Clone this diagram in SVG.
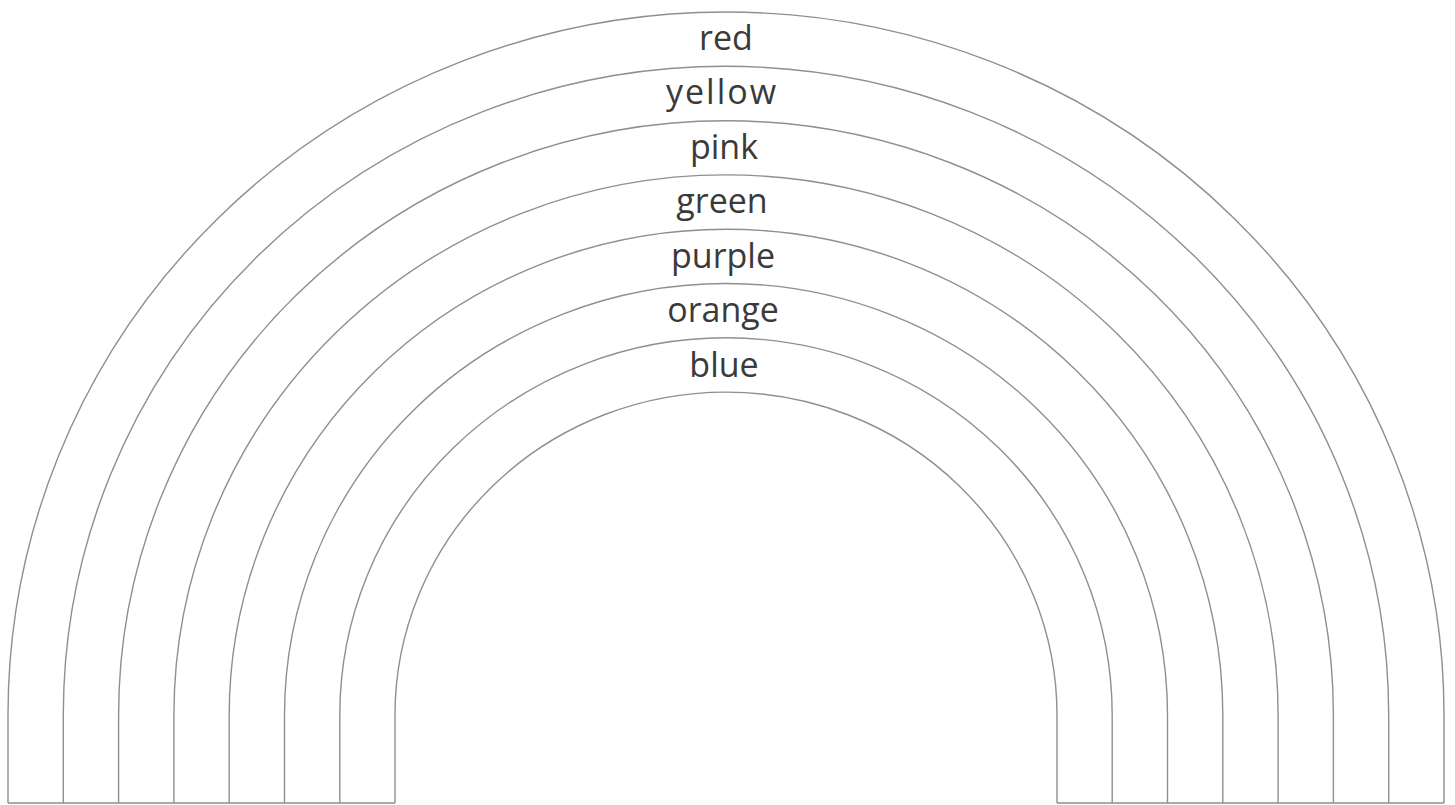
<svg xmlns="http://www.w3.org/2000/svg" width="1455" height="805" viewBox="0 0 1455 805">
<style>
.arc{fill:none;stroke:#8f8f8f;stroke-width:1.4}
.lbl{font-family:"Open Sans","Noto Sans",sans-serif;font-size:34px;fill:#3a3a3a;text-anchor:middle}
</style>
<rect width="1455" height="805" fill="#ffffff"/>
<g id="arcs">
<path class="arc" d="M8 803 L8 715 A718 703 0 0 1 1444 715 L1444 803"/>
<path class="arc" d="M63.3 803 L63.3 715 A662.7 648.7 0 0 1 1388.7 715 L1388.7 803"/>
<path class="arc" d="M118.6 803 L118.6 715 A607.4 594.4 0 0 1 1333.4 715 L1333.4 803"/>
<path class="arc" d="M173.9 803 L173.9 715 A552.1 540.1 0 0 1 1278.1 715 L1278.1 803"/>
<path class="arc" d="M229.2 803 L229.2 715 A496.8 485.8 0 0 1 1222.8 715 L1222.8 803"/>
<path class="arc" d="M284.5 803 L284.5 715 A441.5 431.5 0 0 1 1167.5 715 L1167.5 803"/>
<path class="arc" d="M339.8 803 L339.8 715 A386.2 377.2 0 0 1 1112.2 715 L1112.2 803"/>
<path class="arc" d="M395 803 L395 715 A331 322.9 0 0 1 1057 715 L1057 803"/>
<path class="arc" d="M8 803 L395 803 M1057 803 L1444 803"/>
</g>
<g id="band-red"><text class="lbl" x="726" y="49.5">red</text></g>
<g id="band-yellow"><text class="lbl" x="722" y="104" letter-spacing="2">yellow</text></g>
<g id="band-pink"><text class="lbl" x="724" y="158.5">pink</text></g>
<g id="band-green"><text class="lbl" x="722" y="213">green</text></g>
<g id="band-purple"><text class="lbl" x="723" y="267.5">purple</text></g>
<g id="band-orange"><text class="lbl" x="723" y="322">orange</text></g>
<g id="band-blue"><text class="lbl" x="724" y="376.5">blue</text></g>
</svg>
